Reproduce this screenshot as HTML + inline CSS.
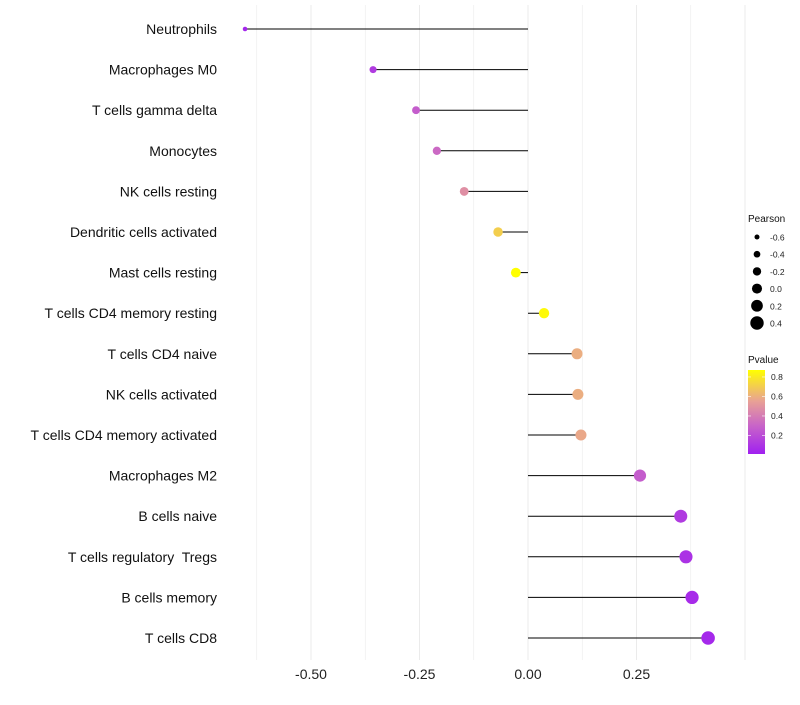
<!DOCTYPE html>
<html><head><meta charset="utf-8"><style>
body{margin:0;background:#fff;font-family:"Liberation Sans",sans-serif}
text{white-space:pre}
</style></head><body>
<svg id="c" width="800" height="700" font-family="Liberation Sans, sans-serif"></svg>
<script>
const cats=["Neutrophils","Macrophages M0","T cells gamma delta","Monocytes","NK cells resting","Dendritic cells activated","Mast cells resting","T cells CD4 memory resting","T cells CD4 naive","NK cells activated","T cells CD4 memory activated","Macrophages M2","B cells naive","T cells regulatory  Tregs","B cells memory","T cells CD8"];
const pearson=[-0.652,-0.357,-0.258,-0.21,-0.147,-0.069,-0.028,0.037,0.113,0.115,0.122,0.258,0.352,0.364,0.378,0.415];
const pvalue=[0.03,0.12,0.27,0.32,0.48,0.72,0.9,0.88,0.6,0.6,0.58,0.27,0.12,0.08,0.05,0.04];
const xTicks=[-0.5,-0.25,0,0.25];
const xTickLabels=["-0.50","-0.25","0.00","0.25"];
const sizeLegend=[-0.6,-0.4,-0.2,0.0,0.2,0.4];
const colorTicks=[0.8,0.6,0.4,0.2];

const svg=document.getElementById('c');const NS="http://www.w3.org/2000/svg";
function mk(t,a,p){const e=document.createElementNS(NS,t);for(const k in a)e.setAttribute(k,a[k]);(p||svg).appendChild(e);return e;}
const x=v=>528+v*434;
const y=i=>29+i*40.6;
const r=v=>2.3+(v+0.65)*4.2;
const y2=p=>454-(p-0.01)*97.5;
function col(p){const s=[[0,[160,32,240]],[0.3,[200,100,200]],[0.55,[232,160,150]],[0.9,[255,255,0]]];p=Math.max(0,Math.min(0.9,p));
for(let i=0;i<s.length-1;i++){if(p<=s[i+1][0]){const t=(p-s[i][0])/(s[i+1][0]-s[i][0]);return 'rgb('+s[i][1].map((c,j)=>Math.round(c+(s[i+1][1][j]-c)*t)).join(',')+')';}}return 'rgb(255,255,0)';}
for(let v=-0.625;v<=0.5;v+=0.125){const g=mk('line',{x1:x(v),x2:x(v),y1:5,y2:660,stroke:'#ebebeb','stroke-width':Math.abs(v*4-Math.round(v*4))<1e-6?1:0.6});
}
xTicks.forEach((v,i)=>{const t=mk('text',{x:x(v),y:679,'text-anchor':'middle','font-size':14,fill:'#222'});t.textContent=xTickLabels[i];
});
cats.forEach((c,i)=>{
const t=mk('text',{x:217,y:y(i)+5,'text-anchor':'end','font-size':14,fill:'#111'});t.textContent=c;

const l=mk('line',{x1:x(0),x2:x(pearson[i]),y1:y(i),y2:y(i),stroke:'#000','stroke-width':1});

const d=mk('circle',{cx:x(pearson[i]),cy:y(i),r:r(pearson[i]),fill:col(pvalue[i])});

});
let t=mk('text',{x:748,y:222,'font-size':10,fill:'#111'});t.textContent='Pearson';

sizeLegend.forEach((v,i)=>{const cy=237+i*17.2;const c=mk('circle',{cx:757,cy:cy,r:r(v),fill:'#000'});

const tt=mk('text',{x:770,y:cy+3.5,'font-size':8.5,fill:'#222'});tt.textContent=v.toFixed(1);
});
t=mk('text',{x:748,y:363,'font-size':10,fill:'#111'});t.textContent='Pvalue';

const defs=mk('defs',{});const lg=mk('linearGradient',{id:'g',x1:0,y1:1,x2:0,y2:0},defs);
[0,0.3,0.55,0.9].forEach(p=>mk('stop',{offset:(y2(0.01)-y2(p))/(454-370),'stop-color':col(p)},lg));
const bar=mk('rect',{x:748,y:370,width:17,height:84,fill:'url(#g)'});

colorTicks.forEach(p=>{const tt=mk('text',{x:771,y:y2(p)+3,'font-size':8.5,fill:'#222'});tt.textContent=p.toFixed(1);

mk('line',{x1:748,x2:751,y1:y2(p),y2:y2(p),stroke:'#fff','stroke-width':0.6});mk('line',{x1:762,x2:765,y1:y2(p),y2:y2(p),stroke:'#fff','stroke-width':0.6});});
</script>
</body></html>
